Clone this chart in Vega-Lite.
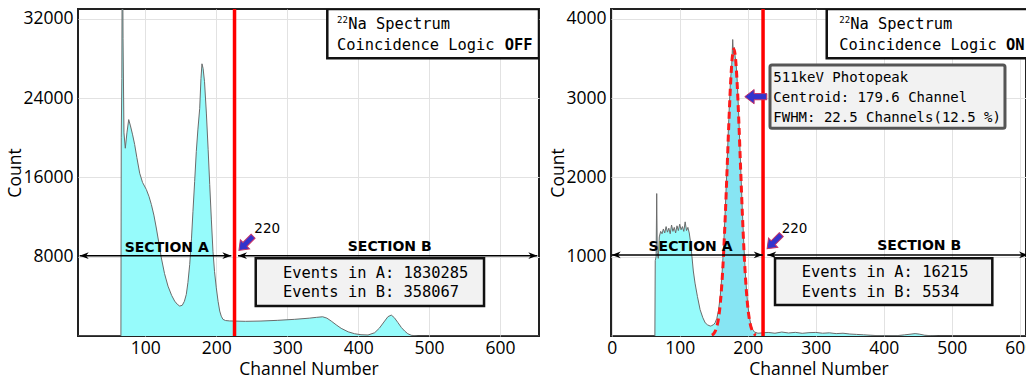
{
"$schema": "https://vega.github.io/schema/vega-lite/v6.json",
"padding": {"left": 5, "top": 6, "right": -9, "bottom": 0},
"spacing": 8,
"config": {
  "font": "Open Sans",
  "view": {"stroke": "#222222", "strokeWidth": 2},
  "axis": {"labelFont": "Open Sans", "labelFontSize": 17.5, "labelColor": "#000000", "titleFont": "Open Sans", "titleFontSize": 17.5, "titleFontWeight": "normal", "titleColor": "#000000", "ticks": false, "domain": false, "gridColor": "#e2e2e2", "gridWidth": 1, "labelFlush": false}
},
"datasets": {
  "histL": [{"ch":5,"count":0},{"ch":65.5,"count":0},{"ch":66,"count":20000},{"ch":66.8,"count":26000},{"ch":67.6,"count":45000},{"ch":68.5,"count":30000},{"ch":69.8,"count":20500},{"ch":71.7,"count":18950},{"ch":74,"count":20500},{"ch":76.5,"count":21840},{"ch":79,"count":21200},{"ch":82,"count":20300},{"ch":84.9,"count":19320},{"ch":88,"count":18000},{"ch":92,"count":16430},{"ch":96,"count":15500},{"ch":101.3,"count":14790},{"ch":105,"count":14100},{"ch":108.4,"count":13280},{"ch":112,"count":12200},{"ch":115.4,"count":10900},{"ch":119,"count":9400},{"ch":122.5,"count":7880},{"ch":127,"count":6300},{"ch":131.9,"count":5030},{"ch":137,"count":4100},{"ch":141.3,"count":3520},{"ch":145,"count":3200},{"ch":148.4,"count":3020},{"ch":152,"count":3100},{"ch":155,"count":3500},{"ch":157.7,"count":4200},{"ch":160,"count":5400},{"ch":162.5,"count":7215},{"ch":165,"count":9800},{"ch":167.1,"count":12580},{"ch":169.5,"count":15600},{"ch":171.8,"count":18620},{"ch":174,"count":20800},{"ch":176.6,"count":22970},{"ch":178.4,"count":26000},{"ch":179.8,"count":27470},{"ch":181.4,"count":27000},{"ch":183.4,"count":25660},{"ch":186,"count":22500},{"ch":188.5,"count":18800},{"ch":190.7,"count":15300},{"ch":193,"count":11800},{"ch":195.3,"count":8550},{"ch":197.5,"count":6500},{"ch":200,"count":4860},{"ch":202.5,"count":3500},{"ch":204.8,"count":2520},{"ch":207,"count":2000},{"ch":209.4,"count":1680},{"ch":213,"count":1560},{"ch":219,"count":1520},{"ch":225,"count":1510},{"ch":241,"count":1480},{"ch":263,"count":1510},{"ch":286,"count":1580},{"ch":310,"count":1680},{"ch":331,"count":1800},{"ch":341,"count":1880},{"ch":350,"count":1940},{"ch":356,"count":1800},{"ch":362,"count":1510},{"ch":369,"count":1130},{"ch":376,"count":775},{"ch":386,"count":420},{"ch":395,"count":230},{"ch":404,"count":130},{"ch":413.9,"count":100},{"ch":423.3,"count":330},{"ch":430,"count":800},{"ch":437.4,"count":1510},{"ch":442,"count":1950},{"ch":446.7,"count":2110},{"ch":451,"count":1850},{"ch":456.2,"count":1340},{"ch":461,"count":850},{"ch":465.6,"count":500},{"ch":470,"count":230},{"ch":475,"count":70},{"ch":484.4,"count":0},{"ch":655,"count":0}],
  "histR": [{"ch":-1,"count":0},{"ch":63.5,"count":0},{"ch":64,"count":950},{"ch":65.3,"count":1000},{"ch":66.2,"count":1797},{"ch":67,"count":1050},{"ch":68.5,"count":980},{"ch":70,"count":1250},{"ch":72,"count":1320},{"ch":74,"count":1290},{"ch":76,"count":1350},{"ch":78,"count":1300},{"ch":80,"count":1380},{"ch":82,"count":1310},{"ch":84,"count":1360},{"ch":86,"count":1290},{"ch":88,"count":1400},{"ch":90,"count":1320},{"ch":92,"count":1370},{"ch":94,"count":1300},{"ch":96,"count":1390},{"ch":98,"count":1330},{"ch":100,"count":1410},{"ch":102,"count":1340},{"ch":104,"count":1380},{"ch":106,"count":1320},{"ch":108,"count":1440},{"ch":110,"count":1330},{"ch":112,"count":1370},{"ch":114,"count":1300},{"ch":116,"count":1180},{"ch":118,"count":1000},{"ch":120,"count":820},{"ch":122.5,"count":667},{"ch":126,"count":500},{"ch":130,"count":332},{"ch":134,"count":230},{"ch":137.5,"count":166},{"ch":141,"count":140},{"ch":145,"count":125},{"ch":147,"count":131},{"ch":150,"count":145},{"ch":152.1,"count":168},{"ch":154.6,"count":223},{"ch":157.1,"count":326},{"ch":159.6,"count":500},{"ch":162.1,"count":767},{"ch":164.6,"count":1141},{"ch":167.1,"count":1619},{"ch":169.6,"count":2168},{"ch":172.1,"count":2731},{"ch":174.6,"count":3222},{"ch":176.5,"count":3420},{"ch":177.9,"count":3740},{"ch":178.8,"count":3560},{"ch":180.2,"count":3640},{"ch":181.5,"count":3520},{"ch":182.8,"count":3450},{"ch":184.6,"count":3207},{"ch":187.1,"count":2706},{"ch":189.6,"count":2133},{"ch":192.1,"count":1574},{"ch":194.6,"count":1086},{"ch":197.1,"count":705},{"ch":199.6,"count":430},{"ch":202.1,"count":251},{"ch":204.6,"count":143},{"ch":207.1,"count":83},{"ch":209.6,"count":51},{"ch":215,"count":35},{"ch":222,"count":40},{"ch":230,"count":45},{"ch":240,"count":35},{"ch":250,"count":50},{"ch":260,"count":38},{"ch":270,"count":46},{"ch":280,"count":34},{"ch":290,"count":42},{"ch":300,"count":45},{"ch":310,"count":35},{"ch":320,"count":40},{"ch":330,"count":30},{"ch":340,"count":35},{"ch":350,"count":25},{"ch":360,"count":20},{"ch":370,"count":15},{"ch":380,"count":10},{"ch":390,"count":5},{"ch":400,"count":3},{"ch":420,"count":5},{"ch":430,"count":14},{"ch":440,"count":24},{"ch":446,"count":30},{"ch":452,"count":24},{"ch":460,"count":10},{"ch":470,"count":3},{"ch":480,"count":0},{"ch":609,"count":0}],
  "gauss": [{"ch":147.1,"count":11},{"ch":149.6,"count":26},{"ch":152.1,"count":58},{"ch":154.6,"count":118},{"ch":157.1,"count":226},{"ch":159.6,"count":405},{"ch":162.1,"count":677},{"ch":164.6,"count":1056},{"ch":167.1,"count":1539},{"ch":169.6,"count":2093},{"ch":172.1,"count":2661},{"ch":174.6,"count":3157},{"ch":177.1,"count":3498},{"ch":179.6,"count":3620},{"ch":182.1,"count":3498},{"ch":184.6,"count":3157},{"ch":187.1,"count":2661},{"ch":189.6,"count":2093},{"ch":192.1,"count":1539},{"ch":194.6,"count":1056},{"ch":197.1,"count":677},{"ch":199.6,"count":405},{"ch":202.1,"count":226},{"ch":204.6,"count":118},{"ch":207.1,"count":58},{"ch":209.6,"count":26},{"ch":212.1,"count":11}]
},
"hconcat": [
{
  "width": 461, "height": 327,
  "layer": [
    {"data": {"name": "histL"}, "mark": {"type": "area", "clip": true, "fill": "#96fbfb", "opacity": 1},
     "encoding": {
       "x": {"field": "ch", "type": "quantitative", "scale": {"domain": [5, 655], "nice": false, "zero": false}, "axis": {"title": "Channel Number", "values": [100, 200, 300, 400, 500, 600], "labelPadding": 3, "titlePadding": 4}},
       "y": {"field": "count", "type": "quantitative", "scale": {"domain": [0, 33000], "nice": false}, "axis": {"title": "Count", "values": [8000, 16000, 24000, 32000], "format": "d", "labelPadding": 5, "titlePadding": -2}}
     }},
    {"data": {"name": "histL"}, "mark": {"type": "line", "clip": true, "color": "#6b6b6b", "strokeWidth": 1},
     "encoding": {"x": {"field": "ch", "type": "quantitative"}, "y": {"field": "count", "type": "quantitative"}}},
    {"data": {"values": [{"x": 225.7}]}, "mark": {"type": "rule", "color": "#ff0000", "strokeWidth": 3.5},
     "encoding": {"x": {"field": "x", "type": "quantitative"}}},
    {"data": {"values": [{"x": 7.4, "x2": 221.2, "y": 8100}, {"x": 230.6, "x2": 652.6, "y": 8100}]}, "mark": {"type": "rule", "color": "#000000", "strokeWidth": 1.5},
     "encoding": {"x": {"field": "x", "type": "quantitative"}, "x2": {"field": "x2"}, "y": {"field": "y", "type": "quantitative"}}},
    {"data": {"values": [{"x": 7.4, "y": 8100}, {"x": 230.6, "y": 8100}]}, "mark": {"type": "point", "shape": "M0,0L2,-0.75L1.4,0L2,0.75Z", "size": 81, "filled": true, "color": "#000000", "opacity": 1},
     "encoding": {"x": {"field": "x", "type": "quantitative"}, "y": {"field": "y", "type": "quantitative"}}},
    {"data": {"values": [{"x": 221.2, "y": 8100}, {"x": 652.6, "y": 8100}]}, "mark": {"type": "point", "shape": "M0,0L-2,-0.75L-1.4,0L-2,0.75Z", "size": 81, "filled": true, "color": "#000000", "opacity": 1},
     "encoding": {"x": {"field": "x", "type": "quantitative"}, "y": {"field": "y", "type": "quantitative"}}},
    {"data": {"values": [{"x": 356.5, "x2": 655, "y": 28025, "y2": 33000}]}, "mark": {"type": "rect", "fill": "#ffffff", "stroke": "#111111", "strokeWidth": 2.5, "clip": true},
     "encoding": {"x": {"field": "x", "type": "quantitative"}, "x2": {"field": "x2"}, "y": {"field": "y", "type": "quantitative"}, "y2": {"field": "y2"}}},
    {"data": {"values": [{"x": 255.6, "x2": 577.5, "y": 3028, "y2": 7841}]}, "mark": {"type": "rect", "fill": "#f2f2f2", "stroke": "#111111", "strokeWidth": 2.5},
     "encoding": {"x": {"field": "x", "type": "quantitative"}, "x2": {"field": "x2"}, "y": {"field": "y", "type": "quantitative"}, "y2": {"field": "y2"}}},
    {"data": {"values": [{"x": 385.9, "y": 30951, "label": "Na Spectrum"}, {"x": 370.2, "y": 28863, "label": "Coincidence Logic"}, {"x": 294.1, "y": 5823, "label": "Events in A: 1830285"}, {"x": 294.1, "y": 3905, "label": "Events in B: 358067"}]},
     "mark": {"type": "text", "align": "left", "baseline": "alphabetic", "font": "DejaVu Sans Mono", "fontSize": 15.4, "color": "#000000"},
     "encoding": {"x": {"field": "x", "type": "quantitative"}, "y": {"field": "y", "type": "quantitative"}, "text": {"field": "label"}}},
    {"data": {"values": [{"x": 606.6, "y": 28863, "label": "OFF"}]},
     "mark": {"type": "text", "align": "left", "baseline": "alphabetic", "font": "DejaVu Sans Mono", "fontSize": 15.4, "fontWeight": "bold", "color": "#000000"},
     "encoding": {"x": {"field": "x", "type": "quantitative"}, "y": {"field": "y", "type": "quantitative"}, "text": {"field": "label"}}},
    {"data": {"values": [{"x": 370.2, "y": 31617, "label": "22"}]},
     "mark": {"type": "text", "align": "left", "baseline": "alphabetic", "font": "DejaVu Sans Mono", "fontSize": 9, "color": "#000000"},
     "encoding": {"x": {"field": "x", "type": "quantitative"}, "y": {"field": "y", "type": "quantitative"}, "text": {"field": "label"}}},
    {"data": {"values": [{"x": 130.1, "y": 8507, "label": "SECTION A"}, {"x": 444.5, "y": 8578, "label": "SECTION B"}]},
     "mark": {"type": "text", "align": "center", "baseline": "alphabetic", "font": "DejaVu Sans", "fontSize": 14, "fontWeight": "bold", "color": "#000000"},
     "encoding": {"x": {"field": "x", "type": "quantitative"}, "y": {"field": "y", "type": "quantitative"}, "text": {"field": "label"}}},
    {"data": {"values": [{"x": 253.6, "y": 10364, "label": "220"}]},
     "mark": {"type": "text", "align": "left", "baseline": "alphabetic", "font": "DejaVu Sans", "fontSize": 13.5, "color": "#000000"},
     "encoding": {"x": {"field": "x", "type": "quantitative"}, "y": {"field": "y", "type": "quantitative"}, "text": {"field": "label"}}},
    {"data": {"values": [{"x": 241.9, "y": 9355}]},
     "mark": {"type": "point", "shape": "M0,-1L0.65,-0.15L0.28,-0.15L0.28,1L-0.28,1L-0.28,-0.15L-0.65,-0.15Z", "size": 400, "angle": 225, "filled": true, "fill": "#3333cc", "stroke": "#c83264", "strokeWidth": 1, "opacity": 1},
     "encoding": {"x": {"field": "x", "type": "quantitative"}, "y": {"field": "y", "type": "quantitative"}}}
  ]
},
{
  "width": 415, "height": 327,
  "layer": [
    {"data": {"name": "histR"}, "mark": {"type": "area", "clip": true, "fill": "#96fbfb", "opacity": 1},
     "encoding": {
       "x": {"field": "ch", "type": "quantitative", "scale": {"domain": [-1, 609], "nice": false, "zero": false}, "axis": {"title": "Channel Number", "values": [0, 100, 200, 300, 400, 500, 600], "labelPadding": 3, "titlePadding": 4}},
       "y": {"field": "count", "type": "quantitative", "scale": {"domain": [0, 4125], "nice": false}, "axis": {"title": "Count", "values": [1000, 2000, 3000, 4000], "format": "d", "labelPadding": 5, "titlePadding": -2}}
     }},
    {"data": {"name": "gauss"}, "mark": {"type": "area", "clip": true, "fill": "#4a8fd8", "fillOpacity": 0.2, "interpolate": "monotone"},
     "encoding": {"x": {"field": "ch", "type": "quantitative"}, "y": {"field": "count", "type": "quantitative"}}},
    {"data": {"name": "histR"}, "mark": {"type": "line", "clip": true, "color": "#6b6b6b", "strokeWidth": 1},
     "encoding": {"x": {"field": "ch", "type": "quantitative"}, "y": {"field": "count", "type": "quantitative"}}},
    {"data": {"name": "gauss"}, "mark": {"type": "line", "clip": true, "color": "#ff1a1a", "strokeWidth": 3, "strokeDash": [7, 4.5], "interpolate": "monotone"},
     "encoding": {"x": {"field": "ch", "type": "quantitative"}, "y": {"field": "count", "type": "quantitative"}}},
    {"data": {"values": [{"x": 222.5}]}, "mark": {"type": "rule", "color": "#ff0000", "strokeWidth": 3.5},
     "encoding": {"x": {"field": "x", "type": "quantitative"}}},
    {"data": {"values": [{"x": 0, "x2": 222, "y": 1022}, {"x": 228.7, "x2": 612, "y": 1022}]}, "mark": {"type": "rule", "color": "#000000", "strokeWidth": 1.5, "clip": true},
     "encoding": {"x": {"field": "x", "type": "quantitative"}, "x2": {"field": "x2"}, "y": {"field": "y", "type": "quantitative"}}},
    {"data": {"values": [{"x": 0, "y": 1022}, {"x": 228.7, "y": 1022}]}, "mark": {"type": "point", "shape": "M0,0L2,-0.75L1.4,0L2,0.75Z", "size": 81, "filled": true, "color": "#000000", "opacity": 1},
     "encoding": {"x": {"field": "x", "type": "quantitative"}, "y": {"field": "y", "type": "quantitative"}}},
    {"data": {"values": [{"x": 222, "y": 1022}, {"x": 612, "y": 1022}]}, "mark": {"type": "point", "shape": "M0,0L-2,-0.75L-1.4,0L-2,0.75Z", "size": 81, "filled": true, "color": "#000000", "opacity": 1, "clip": true},
     "encoding": {"x": {"field": "x", "type": "quantitative"}, "y": {"field": "y", "type": "quantitative"}}},
    {"data": {"values": [{"x": 316.1, "x2": 700, "y": 3503, "y2": 4125}]}, "mark": {"type": "rect", "fill": "#ffffff", "stroke": "#111111", "strokeWidth": 2.5, "clip": true},
     "encoding": {"x": {"field": "x", "type": "quantitative"}, "x2": {"field": "x2"}, "y": {"field": "y", "type": "quantitative"}, "y2": {"field": "y2"}}},
    {"data": {"values": [{"x": 240.1, "x2": 559.5, "y": 391, "y2": 980}]}, "mark": {"type": "rect", "fill": "#f2f2f2", "stroke": "#111111", "strokeWidth": 2.5},
     "encoding": {"x": {"field": "x", "type": "quantitative"}, "x2": {"field": "x2"}, "y": {"field": "y", "type": "quantitative"}, "y2": {"field": "y2"}}},
    {"data": {"values": [{"x": 232.7, "x2": 578.1, "y": 2620, "y2": 3419}]}, "mark": {"type": "rect", "fill": "#f2f2f2", "stroke": "#555555", "strokeWidth": 3, "cornerRadius": 2},
     "encoding": {"x": {"field": "x", "type": "quantitative"}, "x2": {"field": "x2"}, "y": {"field": "y", "type": "quantitative"}, "y2": {"field": "y2"}}},
    {"data": {"values": [{"x": 350.7, "y": 3869, "label": "Na Spectrum"}, {"x": 334.6, "y": 3608, "label": "Coincidence Logic"}, {"x": 279.3, "y": 740, "label": "Events in A: 16215"}, {"x": 279.3, "y": 496, "label": "Events in B: 5534"}]},
     "mark": {"type": "text", "align": "left", "baseline": "alphabetic", "font": "DejaVu Sans Mono", "fontSize": 15.4, "color": "#000000", "clip": true},
     "encoding": {"x": {"field": "x", "type": "quantitative"}, "y": {"field": "y", "type": "quantitative"}, "text": {"field": "label"}}},
    {"data": {"values": [{"x": 579.6, "y": 3608, "label": "ON"}]},
     "mark": {"type": "text", "align": "left", "baseline": "alphabetic", "font": "DejaVu Sans Mono", "fontSize": 15.4, "fontWeight": "bold", "color": "#000000", "clip": true},
     "encoding": {"x": {"field": "x", "type": "quantitative"}, "y": {"field": "y", "type": "quantitative"}, "text": {"field": "label"}}},
    {"data": {"values": [{"x": 334.6, "y": 3952, "label": "22"}]},
     "mark": {"type": "text", "align": "left", "baseline": "alphabetic", "font": "DejaVu Sans Mono", "fontSize": 9, "color": "#000000"},
     "encoding": {"x": {"field": "x", "type": "quantitative"}, "y": {"field": "y", "type": "quantitative"}, "text": {"field": "label"}}},
    {"data": {"values": [{"x": 237.6, "y": 3208, "label": "511keV Photopeak"}, {"x": 237.6, "y": 2956, "label": "Centroid: 179.6 Channel"}, {"x": 237.6, "y": 2703, "label": "FWHM: 22.5 Channels(12.5 %)"}]},
     "mark": {"type": "text", "align": "left", "baseline": "alphabetic", "font": "DejaVu Sans Mono", "fontSize": 14, "color": "#000000"},
     "encoding": {"x": {"field": "x", "type": "quantitative"}, "y": {"field": "y", "type": "quantitative"}, "text": {"field": "label"}}},
    {"data": {"values": [{"x": 115.9, "y": 1072, "label": "SECTION A"}, {"x": 452, "y": 1085, "label": "SECTION B"}]},
     "mark": {"type": "text", "align": "center", "baseline": "alphabetic", "font": "DejaVu Sans", "fontSize": 14, "fontWeight": "bold", "color": "#000000"},
     "encoding": {"x": {"field": "x", "type": "quantitative"}, "y": {"field": "y", "type": "quantitative"}, "text": {"field": "label"}}},
    {"data": {"values": [{"x": 249.9, "y": 1303, "label": "220"}]},
     "mark": {"type": "text", "align": "left", "baseline": "alphabetic", "font": "DejaVu Sans", "fontSize": 13.5, "color": "#000000"},
     "encoding": {"x": {"field": "x", "type": "quantitative"}, "y": {"field": "y", "type": "quantitative"}, "text": {"field": "label"}}},
    {"data": {"values": [{"x": 238.9, "y": 1190}]},
     "mark": {"type": "point", "shape": "M0,-1L0.65,-0.15L0.28,-0.15L0.28,1L-0.28,1L-0.28,-0.15L-0.65,-0.15Z", "size": 400, "angle": 225, "filled": true, "fill": "#3333cc", "stroke": "#c83264", "strokeWidth": 1, "opacity": 1},
     "encoding": {"x": {"field": "x", "type": "quantitative"}, "y": {"field": "y", "type": "quantitative"}}},
    {"data": {"values": [{"x": 211.8, "y": 3019}]},
     "mark": {"type": "point", "shape": "M0,-1L0.65,-0.15L0.28,-0.15L0.28,1L-0.28,1L-0.28,-0.15L-0.65,-0.15Z", "size": 484, "angle": 270, "filled": true, "fill": "#3333cc", "stroke": "#c83264", "strokeWidth": 1, "opacity": 1},
     "encoding": {"x": {"field": "x", "type": "quantitative"}, "y": {"field": "y", "type": "quantitative"}}}
  ]
}
]
}
